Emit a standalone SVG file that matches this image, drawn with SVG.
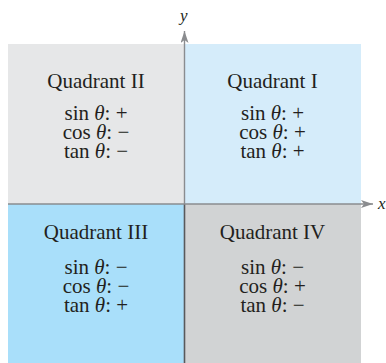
<svg xmlns="http://www.w3.org/2000/svg" width="386" height="363" viewBox="0 0 386 363">
<style>
.t{font-family:"Liberation Serif","Times New Roman",serif;font-size:21px;fill:#231f20;text-anchor:middle}
.i{font-style:italic}
.ax{stroke:#8a8c8f;stroke-width:1.4;fill:none}
.lbl{font-family:"Liberation Serif","Times New Roman",serif;font-size:17px;font-style:italic;fill:#231f20}
</style>
<defs>
<marker id="ah" viewBox="0 0 12 8" refX="12" refY="4" markerWidth="12" markerHeight="8" markerUnits="userSpaceOnUse" orient="auto">
<path d="M0,0 L12,4 L0,8 L3,4 Z" fill="#8a8c8f"/>
</marker>
</defs>
<g id="q2">
<rect x="8" y="44" width="176.5" height="160" fill="#e6e7e8"/>
<text class="t" x="96" y="88">Quadrant II</text>
<text class="t" x="96" y="120"><tspan x="96" y="120">sin <tspan class="i">θ</tspan>: +</tspan><tspan x="96" y="139">cos <tspan class="i">θ</tspan>: −</tspan><tspan x="96" y="158">tan <tspan class="i">θ</tspan>: −</tspan></text>
</g>
<g id="q1">
<rect x="184.5" y="44" width="176.5" height="160" fill="#d5ecfa"/>
<text class="t" x="272.5" y="88">Quadrant I</text>
<text class="t" x="272.5" y="120"><tspan x="272.5" y="120">sin <tspan class="i">θ</tspan>: +</tspan><tspan x="272.5" y="139">cos <tspan class="i">θ</tspan>: +</tspan><tspan x="272.5" y="158">tan <tspan class="i">θ</tspan>: +</tspan></text>
</g>
<g id="q3">
<rect x="8" y="204" width="176.5" height="159" fill="#a9dffa"/>
<text class="t" x="96" y="239">Quadrant III</text>
<text class="t" x="96" y="274"><tspan x="96" y="274">sin <tspan class="i">θ</tspan>: −</tspan><tspan x="96" y="293">cos <tspan class="i">θ</tspan>: −</tspan><tspan x="96" y="312">tan <tspan class="i">θ</tspan>: +</tspan></text>
</g>
<g id="q4">
<rect x="184.5" y="204" width="176.5" height="159" fill="#d1d3d4"/>
<text class="t" x="272.5" y="239">Quadrant IV</text>
<text class="t" x="272.5" y="274"><tspan x="272.5" y="274">sin <tspan class="i">θ</tspan>: −</tspan><tspan x="272.5" y="293">cos <tspan class="i">θ</tspan>: +</tspan><tspan x="272.5" y="312">tan <tspan class="i">θ</tspan>: −</tspan></text>
</g>
<g id="axes">
<line class="ax" x1="184.5" y1="363" x2="184.5" y2="31" marker-end="url(#ah)"/>
<line x1="184.5" y1="204" x2="184.5" y2="363" stroke="#58595b" stroke-width="1.4"/>
<line class="ax" x1="8" y1="204" x2="373" y2="204" marker-end="url(#ah)"/>
<text class="lbl" x="180" y="21">y</text>
<text class="lbl" x="378" y="209">x</text>
</g>
</svg>
